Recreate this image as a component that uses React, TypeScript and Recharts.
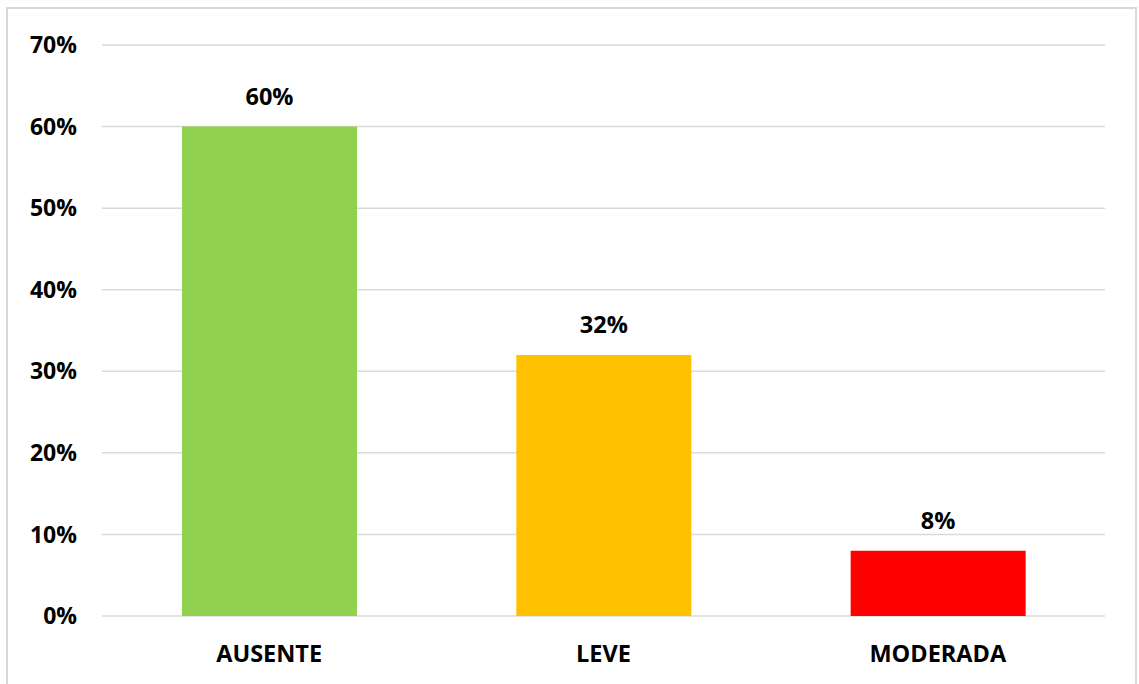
import React from 'react';
import { BarChart, Bar, XAxis, YAxis, CartesianGrid, LabelList, Cell } from 'recharts';

const categories = ['AUSENTE', 'LEVE', 'MODERADA'];
const values = [60, 32, 8];
const barColors = ['#92d050', '#ffc000', '#ff0000'];
const yTicks = [0, 10, 20, 30, 40, 50, 60, 70];

const data = categories.map((name, i) => ({ name, value: values[i] }));

const FONT = '"Open Sans", sans-serif';

export default function App() {
  return (
    <div style={{ position: 'absolute', left: 0, top: 0, width: 1139, height: 684, background: '#fff', overflow: 'hidden' }}>
      <div
        style={{
          position: 'absolute',
          left: 6,
          top: 7,
          width: 1127,
          height: 720,
          border: '2px solid #d9d9d9',
        }}
      />
      <div style={{ position: 'absolute', left: 0, top: 0 }}>
        <BarChart
          width={1139}
          height={684}
          data={data}
          margin={{ top: 45, right: 34, left: 20, bottom: 0 }}
          barSize={175}
        >
          <CartesianGrid vertical={false} stroke="#d9d9d9" strokeWidth={1.5} />
          <XAxis
            dataKey="name"
            axisLine={false}
            tickLine={false}
            tickSize={0}
            tickMargin={29}
            height={68}
            tick={{ fill: '#000', fontSize: 23.5, fontWeight: 700, fontFamily: FONT }}
          />
          <YAxis
            domain={[0, 70]}
            ticks={yTicks}
            width={82}
            axisLine={false}
            tickLine={false}
            tickSize={0}
            tickMargin={25}
            tickFormatter={(v) => `${v}%`}
            tick={{ fill: '#000', fontSize: 23, fontWeight: 700, fontFamily: FONT }}
          />
          <Bar dataKey="value" isAnimationActive={false}>
            {data.map((d, i) => (
              <Cell key={d.name} fill={barColors[i]} />
            ))}
            <LabelList
              dataKey="value"
              position="top"
              offset={22}
              formatter={(v: any) => `${v}%`}
              style={{ fill: '#000', fontSize: 23.5, fontWeight: 700, fontFamily: FONT }}
            />
          </Bar>
        </BarChart>
      </div>
    </div>
  );
}
